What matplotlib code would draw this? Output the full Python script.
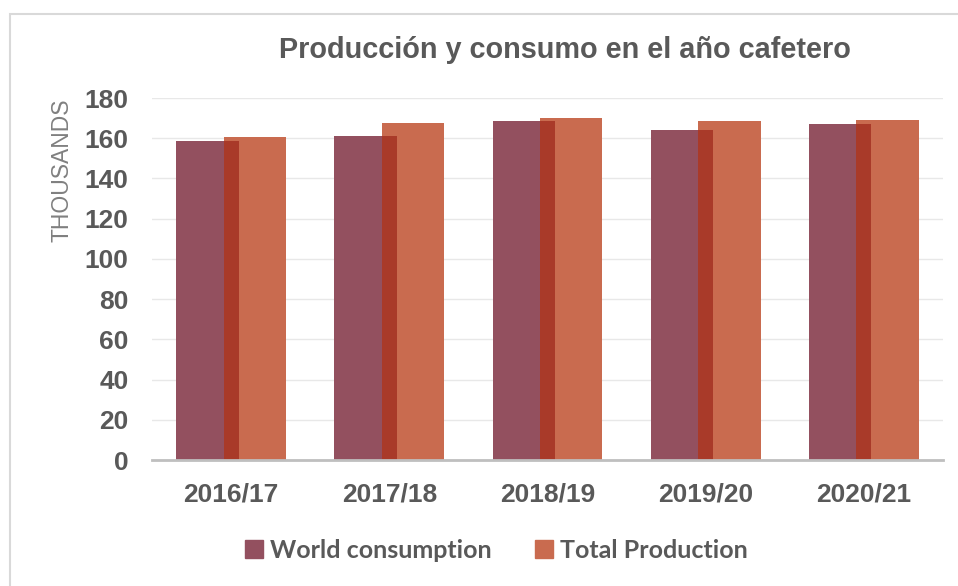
import matplotlib
matplotlib.use("Agg")
import matplotlib.pyplot as plt
import numpy as np
from matplotlib.patches import Rectangle
from matplotlib.lines import Line2D

categories = ["2016/17", "2017/18", "2018/19", "2019/20", "2020/21"]
world_consumption = [158.5, 161.2, 168.4, 163.9, 167.1]
total_production = [160.4, 167.6, 170.0, 168.7, 169.2]
y_ticks = [0, 20, 40, 60, 80, 100, 120, 140, 160, 180]

c_cons = "#93505F"
c_prod = "#C96B4F"
c_overlap = "#A93A29"
text_gray = "#595959"

fig = plt.figure(figsize=(9.58, 5.86), dpi=100)
fig.patch.set_facecolor("white")

# outer frame
frame = Rectangle((10 / 958, -0.05), 1.2, (586 - 14) / 586 + 0.05, transform=fig.transFigure,
                  fill=False, edgecolor="#d9d9d9", linewidth=1.5)
fig.patches.append(frame)

ax = fig.add_axes([152 / 958, (586 - 460) / 586, (943 - 152) / 958, (460 - 98) / 586])

x = np.arange(len(categories))
w = 0.395
off = 0.15
ax.bar(x - off, world_consumption, width=w, color=c_cons, zorder=2)
ax.bar(x + off, total_production, width=w, color=c_prod, zorder=3)
ax.bar(x, np.minimum(world_consumption, total_production), width=w - 2 * off,
       color=c_overlap, zorder=4)

ax.set_xlim(-0.5, len(categories) - 0.5)
ax.set_ylim(0, 180)
ax.set_yticks(y_ticks)
ax.set_xticks(x)
ax.set_xticklabels(categories)
for s in ["top", "right", "left"]:
    ax.spines[s].set_visible(False)
ax.spines["bottom"].set_color("#bfbfbf")
ax.spines["bottom"].set_linewidth(2)
ax.spines["bottom"].set_zorder(5)
ax.grid(axis="y", color="#e8e8e8", linewidth=1, zorder=0)
ax.set_axisbelow(True)
ax.tick_params(axis="both", length=0, colors=text_gray)
ax.tick_params(axis="y", pad=17)
ax.tick_params(axis="x", pad=16)
for lab in ax.get_yticklabels() + ax.get_xticklabels():
    lab.set_fontfamily("Liberation Sans")
    lab.set_fontweight("bold")
    lab.set_fontsize(19)
    lab.set_color(text_gray)

ax.set_ylabel("THOUSANDS", family=["Liberation Sans Narrow", "Liberation Sans"],
              fontsize=16.5, color="#808080")
ax.yaxis.set_label_coords(-0.099, 0.80)

fig.text(565 / 958, 1 - 50 / 586, "Producción y consumo en el año cafetero",
         ha="center", va="center", family="Liberation Sans", fontweight="bold",
         fontsize=20.8, color=text_gray)

handles = [Line2D([], [], marker="s", linestyle="none", markersize=13, color=c_cons),
           Line2D([], [], marker="s", linestyle="none", markersize=13, color=c_prod)]
fig.legend(handles, ["World consumption", "Total Production"],
           loc="center", bbox_to_anchor=(488 / 958, 1 - 550 / 586), ncol=2, frameon=False,
           prop={"family": "Lato", "weight": "bold", "size": 18}, labelcolor=text_gray,
           handletextpad=-0.36, columnspacing=1.1)

fig.savefig("out.png", dpi=100)
